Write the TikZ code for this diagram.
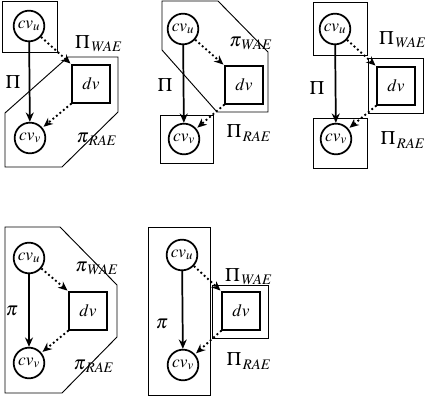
\documentclass[tikz,border=0pt]{standalone}
\usepackage{amsmath}
\usepackage{amssymb}
\usepackage{mathptmx}
\usetikzlibrary{arrows.meta}

\begin{document}
\begin{tikzpicture}[x=0.75pt,y=0.75pt,yscale=-1,xscale=1,
	cv/.style={circle,draw,line width=1.3pt,minimum size=23pt,inner sep=0pt,font=\fontsize{13}{15}\selectfont},
	dvbox/.style={rectangle,draw,line width=1.3pt,minimum size=28pt,inner sep=0pt,font=\fontsize{13}{15}\selectfont},
	region/.style={draw,line width=0.7pt},
	lbl/.style={inner sep=0.75pt,font=\Large},
	flow/.style={line width=1.3pt,-{Stealth[length=7pt,width=6pt]}},
	rw/.style={line width=1.4pt,dotted,-{Stealth[length=7pt,width=6pt]},shorten >=1pt}]
	\useasboundingbox (0,0) rectangle (425,403);
	% first row
	\draw [region] (2,1) rectangle (57,52) ;
	\draw [region] (5,113) -- (68,57) -- (118,57) -- (118,112) -- (62,167) -- (5,167) -- cycle ;
	\node [cv] (cvuA) at (29,26) {$cv_u$};
	\node [cv] (cvvA) at (30,138) {$cv_v$};
	\node [dvbox] (dvA) at (91,84) {$dv$};
	\node [lbl] (lwA) at (99,44) {$\Pi_{\,W\!AE}$};
	\node [lbl] (lrA) at (97,139) {$\pi_{\,RAE}$};
	\node [lbl] (lpA) at (13,82) {$\Pi$};
	\draw [flow] (cvuA) -- (cvvA) ;
	\draw [rw] (cvuA) -- (dvA.north west) ;
	\draw [rw] (dvA.south west) -- (cvvA) ;

	\draw [region] (162,1) -- (218,1) -- (268,52) -- (268,112) -- (217,112) -- (162,50) -- cycle ;
	\draw [region] (160,115) rectangle (213,163) ;
	\node [cv] (cvuB) at (183,29) {$cv_u$};
	\node [cv] (cvvB) at (184,139) {$cv_v$};
	\node [dvbox] (dvB) at (244,85) {$dv$};
	\node [lbl] (lwB) at (251,43) {$\pi_{\,W\!AE}$};
	\node [lbl] (lrB) at (249,133) {$\Pi_{\,RAE}$};
	\node [lbl] (lpB) at (165,85) {$\Pi$};
	\draw [flow] (cvuB) -- (cvvB) ;
	\draw [rw] (cvuB) -- (dvB.north west) ;
	\draw [rw] (dvB.south west) -- (cvvB) ;

	\draw [region] (313,2) rectangle (367,55) ;
	\draw [region] (313,118) rectangle (367,168) ;
	\draw [region] (368,58) rectangle (423,113) ;
	\node [cv] (cvuC) at (335,29) {$cv_u$};
	\node [cv] (cvvC) at (336,139) {$cv_v$};
	\node [dvbox] (dvC) at (396,86) {$dv$};
	\node [lbl] (lwC) at (403,40) {$\Pi_{\,W\!AE}$};
	\node [lbl] (lrC) at (403,140) {$\Pi_{\,RAE}$};
	\node [lbl] (lpC) at (317,88) {$\Pi$};
	\draw [flow] (cvuC) -- (cvvC) ;
	\draw [rw] (cvuC) -- (dvC.north west) ;
	\draw [rw] (dvC.south west) -- (cvvC) ;

	% second row
	\draw [region] (5,227) -- (60,227) -- (117,285) -- (117,337) -- (62,393) -- (5,393) -- cycle ;
	\node [cv] (cvuD) at (29,258) {$cv_u$};
	\node [cv] (cvvD) at (29,363) {$cv_v$};
	\node [dvbox] (dvD) at (88,311) {$dv$};
	\node [lbl] (lwD) at (97,268) {$\pi_{\,W\!AE}$};
	\node [lbl] (lrD) at (94,366) {$\pi_{\,RAE}$};
	\node [lbl] (lpD) at (12,311) {$\pi$};
	\draw [flow] (cvuD) -- (cvvD) ;
	\draw [rw] (cvuD) -- (dvD.north west) ;
	\draw [rw] (dvD.south west) -- (cvvD) ;

	\draw [region] (148,227) rectangle (210,395) ;
	\draw [region] (212,285) rectangle (268,338) ;
	\node [cv] (cvuE) at (182,255) {$cv_u$};
	\node [cv] (cvvE) at (183,365) {$cv_v$};
	\node [dvbox] (dvE) at (241,311) {$dv$};
	\node [lbl] (lwE) at (249,277) {$\Pi_{\,W\!AE}$};
	\node [lbl] (lrE) at (249,361) {$\Pi_{\,RAE}$};
	\node [lbl] (lpE) at (162,324) {$\pi$};
	\draw [flow] (cvuE) -- (cvvE) ;
	\draw [rw] (cvuE) -- (dvE.north west) ;
	\draw [rw] (dvE.south west) -- (cvvE) ;
\end{tikzpicture}
\end{document}
